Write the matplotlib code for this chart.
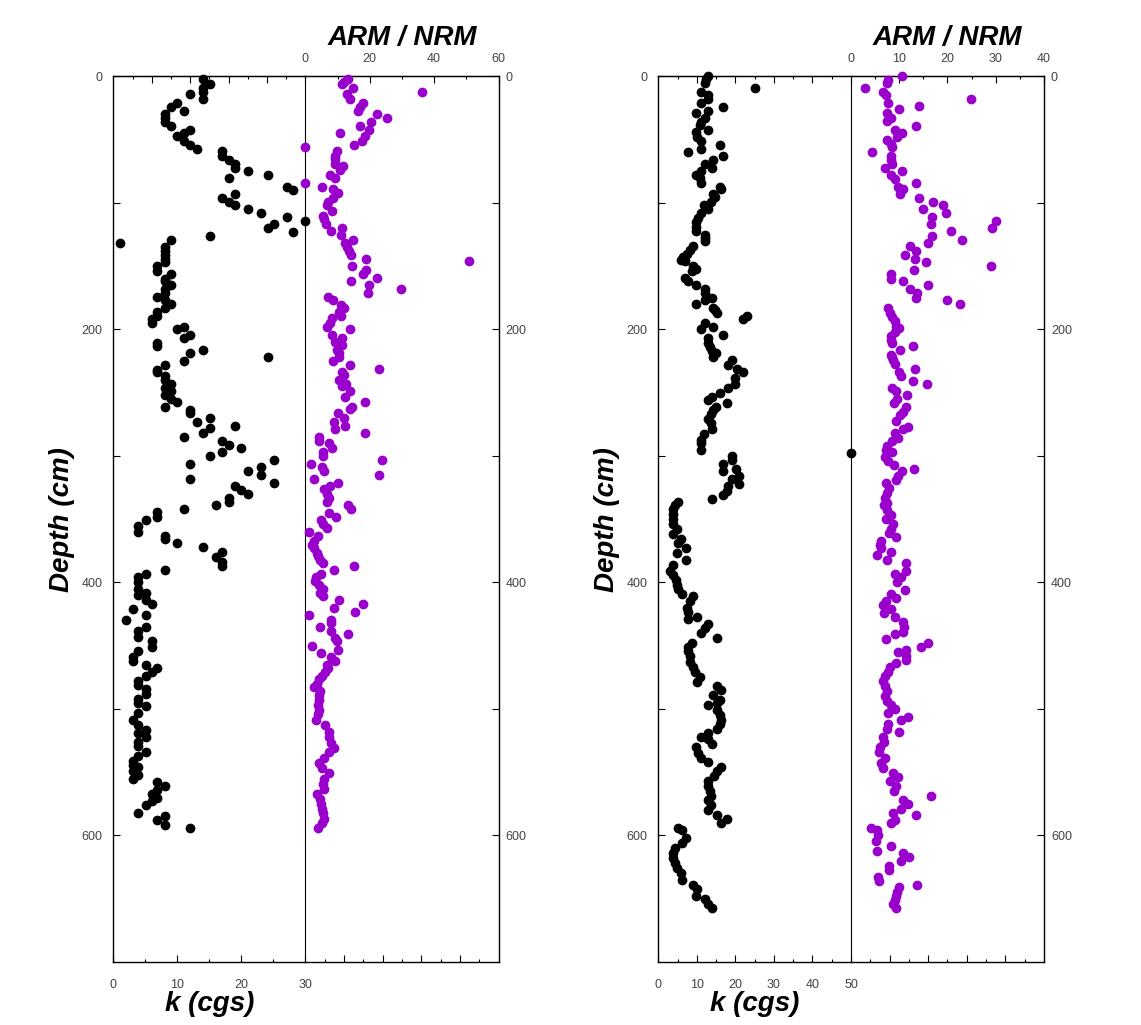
import matplotlib
matplotlib.use('Agg')
import matplotlib.pyplot as plt
import numpy as np

plt.rcParams['font.family'] = ['Liberation Sans', 'DejaVu Sans']

# ---- left core: susceptibility k (cgs) vs depth
depth_k1 = [2, 6, 9, 12, 14, 18, 21, 24, 27, 30, 33, 36, 39, 42, 45, 47, 51, 54, 57, 59,
            63, 66, 69, 72, 75, 78, 80, 87, 90, 93, 96, 99, 102, 105, 108, 111, 114, 117, 120, 123,
            126, 129, 132, 135, 138, 141, 144, 147, 150, 154, 156, 160, 162, 165, 168, 171, 174, 177, 180, 183,
            186, 189, 192, 195, 198, 200, 204, 207, 211, 213, 216, 219, 222, 225, 228, 232, 234, 237, 240, 243,
            246, 249, 252, 255, 257, 261, 264, 266, 270, 273, 276, 278, 282, 285, 288, 291, 294, 297, 300, 303,
            306, 309, 312, 315, 318, 321, 324, 327, 330, 333, 336, 339, 342, 344, 348, 351, 355, 360, 363, 366,
            369, 372, 376, 380, 384, 387, 390, 393, 396, 400, 405, 408, 410, 414, 417, 421, 426, 430, 435, 438,
            443, 446, 451, 454, 459, 462, 465, 468, 471, 474, 478, 481, 484, 488, 492, 495, 498, 503, 509, 513,
            517, 519, 522, 526, 529, 534, 537, 541, 544, 546, 549, 552, 555, 558, 561, 564, 567, 570, 573, 576,
            582, 585, 588, 592, 594]
k1 = [14, 15.1, 14, 14, 12, 14, 10, 9, 11.1, 8, 8, 8, 9, 12, 11.1, 10, 11.1, 12, 13, 17,
      17, 18.1, 19, 19, 21, 24.1, 18.1, 27.1, 28.1, 19, 17, 18.1, 19, 21, 23.1, 27.1, 30, 25.1, 24.1, 28.1,
      15.1, 9, 1, 8, 8, 8, 8, 8, 6.9, 6.9, 9, 8, 8, 9, 8, 8, 6.9, 8, 9, 8,
      6.9, 6.9, 6, 6, 11.1, 10, 12, 11.1, 6.9, 6.9, 14, 12, 24.1, 11.1, 8, 6.9, 6.9, 8, 8, 9,
      8, 9, 8, 9, 10, 8, 12, 12, 15.1, 13, 19, 15.1, 14, 11.1, 17, 18.1, 20, 17, 15.1, 25.1,
      12, 23.1, 21, 23.1, 12, 25.1, 19, 20, 21, 18.1, 18.1, 16, 11.1, 6.9, 6.9, 5.1, 3.9, 3.9, 8, 8,
      10, 14, 17, 16, 17, 17, 8, 5.1, 3.9, 3.9, 3.9, 5.1, 3.9, 5.1, 6, 3, 5.1, 2, 5.1, 3.9,
      3.9, 6, 6, 3.9, 3, 3, 5.1, 6.9, 6, 5.1, 3.9, 3.9, 5.1, 5.1, 3.9, 3.9, 5.1, 3.9, 3, 3.9,
      5.1, 3.9, 5.1, 3.9, 3.9, 5.1, 3.9, 3, 3, 3.9, 3, 3.9, 3, 6.9, 8, 6.9, 6, 6.9, 6, 5.1,
      3.9, 8, 6.9, 8, 12]

# ---- left core: ARM / NRM vs depth
depth_arm1 = [2, 4, 6, 9, 12, 14, 18, 21, 24, 27, 30, 33, 36, 39, 42, 45, 47, 51, 54, 56,
              59, 63, 65, 69, 71, 74, 78, 80, 84, 87, 89, 92, 96, 99, 102, 106, 110, 113, 117, 120,
              122, 125, 129, 132, 135, 138, 141, 144, 146, 150, 153, 156, 159, 162, 165, 168, 171, 174, 177, 181,
              183, 186, 189, 191, 195, 198, 200, 204, 207, 210, 212, 216, 219, 222, 225, 228, 231, 234, 236, 240,
              243, 245, 249, 253, 257, 261, 263, 266, 270, 273, 276, 279, 282, 285, 288, 290, 294, 297, 300, 303,
              306, 309, 312, 315, 318, 321, 324, 326, 330, 333, 336, 339, 342, 345, 348, 351, 354, 357, 360, 363,
              367, 370, 373, 377, 379, 382, 385, 387, 390, 393, 396, 399, 402, 405, 408, 411, 414, 417, 420, 423,
              426, 430, 432, 435, 438, 441, 444, 446, 450, 453, 456, 459, 462, 465, 468, 471, 474, 476, 480, 483,
              486, 489, 493, 497, 501, 504, 509, 513, 518, 522, 527, 531, 534, 539, 543, 547, 551, 555, 559, 563,
              567, 571, 575, 579, 582, 587, 590, 594]
arm1 = [13.1, 12.1, 11.4, 14.7, 36.2, 12.8, 13.7, 18, 17, 16.2, 22.3, 25.3, 20.5, 17, 19.9, 10.8, 18.6, 17.6, 15.2, 0,
        9.7, 9.3, 9.1, 9.1, 11.6, 10.6, 7.7, 9.3, 0, 5, 8.7, 10, 8.5, 6.9, 6.6, 8.3, 5.4, 5.9, 6.4, 11.4,
        8, 11.1, 14.9, 12.4, 12.8, 13.4, 14.2, 18.8, 50.9, 14.5, 18.8, 18, 22.1, 14.2, 19.9, 29.7, 19.4, 6.9, 8.5, 11.1,
        12.1, 10.3, 11.1, 8.1, 7.7, 6.6, 13.9, 8.1, 11.4, 9.3, 11.4, 9.7, 10.3, 10.3, 8.5, 13.7, 23, 11.4, 12.1, 10.3,
        12.6, 11.4, 13.7, 12.4, 18.5, 14.5, 13.7, 10, 12.1, 9, 12.3, 9.3, 18.5, 4.3, 4.3, 7.2, 8.2, 5.4, 5.4, 23.7,
        1.8, 5.2, 5.9, 22.8, 2.8, 10.2, 7.7, 5.9, 6.7, 7.2, 6.6, 13.1, 14.2, 7.4, 9.5, 4.9, 5.4, 6.6, 1, 3.8,
        2.8, 2.1, 2.8, 3.5, 3.8, 4.6, 5.6, 15.2, 8.8, 4.9, 3.3, 3.1, 4.1, 5.6, 4.6, 5.6, 10.3, 18, 8.8, 15.5,
        1, 8, 8, 4.6, 8, 13.1, 9.3, 9.7, 2.1, 10, 4.9, 8, 9.3, 6.6, 6.9, 6.2, 5.2, 4.3, 3.5, 2.8,
        4.6, 4.3, 4.1, 3.8, 4.3, 3.8, 3.3, 6.2, 7.2, 7.4, 8, 9, 7.4, 5.9, 4.3, 5.2, 7.2, 5.9, 5.6, 5.9,
        3.5, 4.6, 4.9, 5.2, 5.6, 5.9, 5.2, 3.8]

# ---- right core: susceptibility k (cgs) vs depth
depth_k2 = [0, 2, 5, 9, 12, 15, 18, 21, 24, 27, 29, 33, 36, 38, 42, 44, 48, 51, 54, 57,
            60, 63, 66, 69, 72, 75, 78, 80, 84, 87, 89, 93, 95, 99, 102, 105, 108, 112, 115, 119,
            122, 125, 128, 130, 134, 137, 140, 143, 145, 146, 150, 152, 154, 159, 162, 165, 168, 171, 175, 177,
            180, 183, 185, 187, 189, 192, 195, 198, 200, 204, 207, 211, 214, 217, 219, 222, 224, 228, 231, 234,
            238, 243, 246, 250, 253, 256, 258, 261, 264, 267, 271, 274, 279, 283, 287, 290, 295, 298, 300, 303,
            306, 310, 312, 316, 318, 322, 324, 328, 331, 334, 336, 339, 342, 346, 350, 354, 358, 362, 366, 369,
            373, 377, 382, 386, 391, 394, 398, 402, 405, 409, 411, 415, 420, 423, 427, 429, 433, 436, 440, 444,
            448, 451, 454, 458, 463, 467, 471, 475, 479, 482, 485, 489, 493, 495, 497, 501, 505, 509, 512, 516,
            519, 522, 524, 528, 530, 535, 539, 542, 546, 549, 553, 557, 561, 565, 569, 572, 576, 580, 584, 587,
            590, 594, 596, 602, 606, 610, 614, 618, 622, 626, 630, 635, 639, 642, 648, 650, 654, 657]
k2 = [13, 12.4, 12.1, 25.1, 11.1, 13, 13, 11.1, 16.9, 13, 9.9, 12.1, 11.1, 10.8, 13, 9.8, 10.1, 11.1, 16, 11.1,
      7.8, 16.9, 14.1, 12.1, 13.8, 11.1, 9.8, 10.8, 11.1, 16, 16.2, 14.1, 14.7, 13.6, 11.9, 13, 11, 10.4, 9.9, 9.8,
      9.9, 12.1, 12.1, 12.1, 9.1, 8.2, 7.4, 6.5, 5.8, 6.9, 9.1, 9.9, 8.7, 6.9, 7.8, 9.9, 12.1, 12.1, 14, 12.1,
      9.9, 14.1, 14.7, 15.3, 22.9, 22.1, 12.1, 14.1, 11.1, 16.9, 13, 13, 13.4, 13.8, 15, 14.3, 19, 18.2, 20.3, 22.1,
      19.9, 19.9, 18.2, 16, 13.8, 13, 17.9, 15, 14.3, 13.6, 13, 13.6, 13.8, 11.9, 11, 11.2, 11.1, 50, 19, 19,
      16.9, 20.2, 16.9, 21, 19, 21, 18.2, 17.9, 16.9, 13.8, 5, 4.3, 3.9, 3.9, 3.9, 3.9, 4.8, 3.9, 5.8, 5.2,
      7.1, 4.9, 7.1, 3.9, 3, 3.9, 4.6, 4.9, 5.2, 6.1, 8.9, 8.2, 7.4, 7.8, 10.1, 7.8, 13, 12.1, 11.2, 15.1,
      8.7, 7.8, 7.8, 8.2, 8.2, 8.9, 9.5, 10.8, 10.1, 15.3, 16.2, 14.1, 16, 15.1, 13, 15.3, 16, 16.2, 16, 15.3,
      13, 11, 13, 13.8, 9.9, 10.4, 11.2, 13, 16.2, 15.3, 14.4, 13, 13, 13.4, 13.6, 13, 13.6, 13, 15.1, 17.9,
      16.2, 5.2, 6.1, 7.2, 6.1, 4.3, 3.9, 3.9, 4.3, 4.9, 5.8, 6.1, 9.1, 10.1, 9.9, 12.1, 13, 13.8]

# ---- right core: ARM / NRM vs depth
depth_arm2 = [0, 3, 5, 9, 12, 15, 18, 21, 23, 26, 29, 33, 35, 39, 42, 45, 48, 50, 53, 56,
              60, 63, 66, 69, 72, 75, 78, 81, 84, 87, 89, 93, 96, 99, 102, 105, 108, 111, 114, 117,
              120, 122, 126, 129, 132, 134, 138, 141, 144, 147, 150, 153, 156, 160, 162, 165, 168, 171, 175, 177,
              180, 183, 187, 190, 193, 197, 199, 202, 205, 208, 211, 213, 216, 220, 222, 224, 227, 231, 234, 237,
              241, 243, 246, 249, 252, 255, 258, 261, 265, 268, 272, 277, 279, 282, 286, 288, 292, 295, 297, 301,
              304, 307, 310, 312, 316, 319, 321, 325, 329, 333, 337, 339, 343, 347, 350, 354, 358, 361, 364, 367,
              370, 373, 376, 378, 382, 385, 391, 393, 396, 400, 406, 409, 412, 415, 418, 421, 424, 427, 431, 435,
              439, 441, 445, 448, 451, 453, 455, 458, 461, 464, 467, 471, 474, 478, 482, 486, 490, 494, 497, 500,
              503, 506, 509, 512, 516, 518, 522, 526, 530, 534, 539, 543, 547, 551, 554, 557, 561, 565, 569, 572,
              575, 579, 582, 584, 588, 590, 594, 596, 600, 604, 608, 612, 614, 617, 620, 624, 627, 633, 636, 639,
              641, 645, 648, 651, 654, 657]
arm2 = [10.5, 7.7, 7.4, 3, 6.6, 7.2, 24.8, 7.7, 14.1, 9.9, 7.4, 8.2, 7.4, 13.4, 9.1, 10.5, 9.6, 7.4, 8.2, 8.6,
        4.3, 8.2, 8.4, 8.6, 7, 10.5, 8.2, 9.1, 13.4, 9.8, 10.8, 10.1, 14.1, 16.9, 19, 15, 19.7, 16.7, 30.1, 16.5,
        29.3, 20.7, 16.7, 23.1, 16, 12.3, 13.4, 11.3, 13.2, 15.5, 29.1, 13, 8.4, 8.2, 10.8, 16, 12.2, 13.6, 13.4, 20,
        22.6, 7.7, 8.1, 8.6, 9.1, 9.4, 10, 9.1, 8.4, 8.4, 8.6, 12.9, 10.1, 8.2, 8.6, 8.8, 9.1, 13.2, 10, 10.3,
        12.8, 15.7, 8.6, 9.4, 11.7, 9.6, 8.9, 11.5, 10.8, 10.1, 9.4, 11.9, 10.7, 9.1, 9.8, 8.6, 7.5, 7.2, 8.6, 7,
        7.7, 8.9, 13, 10.5, 9.8, 9.3, 7.2, 7.9, 7.5, 7, 7.5, 6.8, 7.5, 8.2, 7.2, 8.8, 8.2, 7.9, 9.4, 6.3,
        6, 6.3, 8.2, 5.4, 7.4, 11.5, 11.5, 9.1, 10.3, 9.6, 11.2, 8.2, 9.3, 7.2, 6.6, 8.4, 6.8, 9.1, 10.8, 11,
        10.8, 9.1, 7.2, 16, 14.6, 11.5, 9.8, 11.4, 11.5, 9.3, 8.1, 7.7, 7, 6.6, 7, 7.4, 7, 7.4, 8.2, 9.1,
        7.7, 11.9, 10.3, 7.7, 7.5, 10, 6.6, 6.8, 6, 5.9, 7, 6.3, 6.6, 8.8, 9.8, 8.1, 9.4, 8.9, 16.6, 10.8,
        11.9, 10.3, 8.8, 13.4, 9.1, 8.2, 4.1, 5.4, 5.7, 5.2, 8.2, 5.3, 10.8, 12.1, 10.3, 7.9, 7.9, 5.7, 5.9, 13.7,
        10, 9.6, 9.3, 9.1, 8.8, 9.4]

k_label = 'k (cgs)'
arm_label = 'ARM / NRM'
depth_label = 'Depth (cm)'

purple = '#9900CC'
tick_gray = '#444444'
title_font = dict(fontsize=20, fontweight='bold', fontstyle='italic', color='black')

fig = plt.figure(figsize=(11.41, 10.25), dpi=100)
bottom = 0.0615
height = 0.9254 - bottom


def ten_divisions(vmax):
    pos = np.linspace(0, vmax, 11)
    return pos[2:10:2], pos[1:10:2]


def style_ticks(ax):
    ax.tick_params(which='both', direction='in', colors='black', labelcolor=tick_gray, labelsize=9, width=0.8)
    ax.tick_params(which='major', length=5)
    ax.tick_params(which='minor', length=2.5)


def draw_panel(x_left, x_mid, x_right, depth_k, k, k_max, depth_arm, arm, arm_max, arm_step):
    ax_k = fig.add_axes([x_left, bottom, x_mid - x_left, height])
    ax_a = fig.add_axes([x_mid, bottom, x_right - x_mid, height])
    ax_a.patch.set_visible(False)

    for ax in (ax_k, ax_a):
        ax.set_ylim(700, 0)
        for sp in ax.spines.values():
            sp.set_linewidth(1.0)
    ax_a.spines['left'].set_visible(False)
    ax_k.spines['right'].set_linewidth(0.8)

    # k half
    ax_k.set_xlim(0, k_max)
    ax_k.set_xticks(np.arange(0, k_max + 1, 10))
    ax_k.set_xticks(np.arange(5, k_max, 10), minor=True)
    ax_k.set_yticks([0, 200, 400, 600])
    ax_k.set_yticks([100, 300, 500], minor=True)
    style_ticks(ax_k)
    ax_k.tick_params(axis='y', which='minor', length=5)
    ax_k.tick_params(axis='x', pad=12)
    ax_k.tick_params(axis='y', pad=8)
    ax_k.tick_params(right=False, top=False, which='both')
    top_k = ax_k.secondary_xaxis('top')
    maj, mnr = ten_divisions(k_max)
    top_k.set_xticks(maj)
    top_k.set_xticks(mnr, minor=True)
    style_ticks(top_k)
    top_k.tick_params(labeltop=False)

    # ARM half
    ax_a.set_xlim(0, arm_max)
    maj, mnr = ten_divisions(arm_max)
    ax_a.set_xticks(maj)
    ax_a.set_xticks(mnr, minor=True)
    ax_a.set_yticks([0, 200, 400, 600])
    ax_a.set_yticks([100, 300, 500], minor=True)
    ax_a.yaxis.tick_right()
    style_ticks(ax_a)
    ax_a.tick_params(axis='y', which='minor', length=5)
    ax_a.tick_params(axis='x', labelbottom=False)
    ax_a.tick_params(axis='y', left=False, right=True, pad=5, which='both')
    ax_a.tick_params(top=False, which='both')
    top_a = ax_a.secondary_xaxis('top')
    top_a.set_xticks(np.arange(0, arm_max + 1, arm_step))
    top_a.set_xticks(np.arange(arm_step / 2, arm_max, arm_step), minor=True)
    style_ticks(top_a)
    top_a.tick_params(pad=8)

    ax_k.plot(k, depth_k, 'o', ms=6.0, color='black', mec='black', clip_on=False, zorder=5)
    ax_a.plot(arm, depth_arm, 'o', ms=6.0, color=purple, mec=purple, clip_on=False, zorder=5)

    ax_k.text(0.5, -0.0475, k_label, transform=ax_k.transAxes, ha='center', va='center', **title_font)
    ax_a.text(0.5, 1.0435, arm_label, transform=ax_a.transAxes, ha='center', va='center', **title_font)
    ax_k.text(-0.265, 0.5, depth_label, transform=ax_k.transAxes, ha='center', va='center',
              rotation=90, **title_font)


draw_panel(0.0993, 0.2677, 0.4369, depth_k1, k1, 30, depth_arm1, arm1, 60, 20)
draw_panel(0.5770, 0.7458, 0.9150, depth_k2, k2, 50, depth_arm2, arm2, 40, 10)

fig.savefig('out.png', dpi=100)
